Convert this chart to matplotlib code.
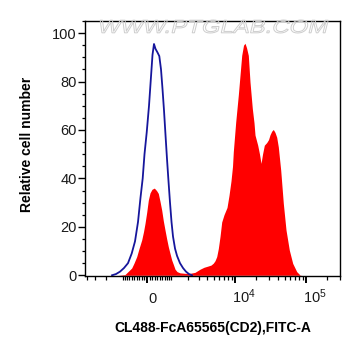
import numpy as np
import matplotlib
matplotlib.use("Agg")
import matplotlib.pyplot as plt
from matplotlib.textpath import TextPath
from matplotlib.patches import PathPatch
from matplotlib.font_manager import FontProperties
from matplotlib.transforms import Affine2D

plt.rcParams["font.family"] = ["Liberation Sans", "DejaVu Sans"]
plt.rcParams["mathtext.fontset"] = "custom"
plt.rcParams["mathtext.rm"] = "Liberation Sans"
plt.rcParams["mathtext.it"] = "Liberation Sans"

# control (blue outline): fluorescence intensity vs relative cell number
ctrl_x = [-1610, -1369, -1145, -944, -758, -597, -461, -342, -246, -162, -94,
          -11, 75, 150, 207, 264, 322, 401, 473, 543, 605, 670, 735, 803, 863,
          944, 1018, 1094, 1201, 1313, 1486, 1677, 1883, 2107, 2352]
ctrl_y = [0, 0.5, 1.5, 3, 5, 9, 14, 22, 32, 40, 50, 59, 70, 82, 91, 95.5, 93.5,
          92, 90.5, 85, 77, 68, 58, 48, 40, 30, 22, 16, 11, 8, 5, 3, 1.5, 0.5, 0]

# CD2 stained sample (red fill)
cd2_x = [-1254, -896, -758, -597, -502, -393, -303, -199, -131, -75, -11, 49,
         113, 188, 276, 362, 433, 502, 572, 640, 713, 789, 863, 944, 1028,
         1110, 1201, 1313, 1486, 1813, 2186, 2618, 3119, 3577, 4097, 4531,
         4893, 5178, 5479, 5776, 6111, 6463, 6971, 7692, 8214, 8769, 9210,
         9453, 10226, 11130, 11765, 12436, 13190, 13845, 14538, 15415, 16291,
         17556, 18550, 19167, 20924, 22184, 23294, 24455, 25929, 28026, 29712,
         31192, 32964, 34722, 36691, 38771, 40838, 44149, 48035, 52431, 58351,
         65160, 74187, 82571, 88105]
cd2_y = [0, 0.3, 1.5, 3, 5, 7.7, 11, 14.6, 18, 21.4, 26, 31, 34, 35.5, 36, 35,
         33.8, 30.5, 26.9, 22.5, 18.7, 15, 11.8, 9, 6.3, 4.5, 2.5, 1.5, 1.0,
         0.8, 0.8, 1.2, 2.5, 3.3, 3.8, 4.2, 5, 6, 7.7, 11, 16, 22, 25, 28, 33,
         39, 45, 51, 63.3, 74.4, 82.6, 90.8, 95, 95.8, 94, 90.8, 79.8, 68.9, 63,
         57.9, 53.7, 50, 46.2, 50, 53.7, 54.8, 56, 58, 59.5, 60.2, 59, 57, 53,
         43.4, 29.7, 18.7, 10.4, 4.9, 1.5, 0.1, 0]

major_x = [0, 1e4, 1e5]
major_labels = ["0", "$10^4$", "$10^5$"]
minor_x = ([-4000, -3000, -2000, -1000] + list(range(-900, 0, 100)) +
           list(range(100, 1000, 100)) + list(range(1000, 10000, 1000)) +
           list(range(20000, 100000, 10000)) + [200000, 300000])

W = 1155  # arcsinh width parameter of the display scale

fig = plt.figure(figsize=(3.61, 3.56), dpi=100)
ax = fig.add_axes([85 / 361, 80 / 356, 255 / 361, 255 / 356])
ax.set_xscale("function", functions=(lambda x: np.arcsinh(np.asarray(x) / W),
                                     lambda t: W * np.sinh(np.asarray(t))))

ax.fill_between(cd2_x, cd2_y, 0, color="#ff0000", lw=0, zorder=2)
ax.plot(ctrl_x, ctrl_y, color="#16169c", lw=1.3, zorder=3)

ax.set_xlim(-4237, 302000)
ax.set_ylim(-0.3, 104.7)

ax.set_xticks(major_x)
ax.set_xticks(minor_x, minor=True)
ax.set_xticklabels([])
ax.set_yticks(range(0, 101, 20))
ax.set_yticks(range(0, 106, 5), minor=True)
ax.tick_params(axis="x", which="major", length=4.8, width=1.4, color="black")
ax.tick_params(axis="x", which="minor", length=3, width=0.9, color="black")
ax.tick_params(axis="y", which="major", length=5, width=1, pad=1,
               labelsize=10.5, labelcolor="#1a1a1a")
ax.tick_params(axis="y", which="minor", length=2.5, width=0.9)

for xv, lab in zip(major_x, major_labels):
    dx = 3.6 if lab == "0" else 6.3
    ax.annotate(lab, xy=(xv, 0), xycoords=("data", "axes fraction"),
                xytext=(dx, -19.1), textcoords="offset points",
                ha="center", va="baseline", fontsize=10.5, color="#1a1a1a")

for sp in ax.spines.values():
    sp.set_linewidth(1.0)
    sp.set_color("black")
    sp.set_zorder(6)

ax.set_xlabel("CL488-FcA65565(CD2),FITC-A", fontsize=10, fontweight="bold")
ax.xaxis.set_label_coords(0.5, -0.205)
ax.xaxis.label.set_va("center")
ax.set_ylabel("Relative cell number", fontsize=10, fontweight="bold")
ax.yaxis.set_label_coords(-0.227, 0.518)
ax.yaxis.label.set_va("center")

# watermark (thin italic outline letters)
tp = TextPath((0, 0), "WWW.PTGLAB.COM", size=10,
              prop=FontProperties(family="Liberation Sans"))
bb = tp.get_extents()
sx = 228 / bb.width
sy = 13 / bb.height
tr = (Affine2D().translate(-bb.x0, -bb.y0).scale(sx, sy).skew_deg(14, 0)
      .translate(97, 356 - 33) + Affine2D().scale(1 / 361, 1 / 356)
      + fig.transFigure)
fig.patches.append(PathPatch(tp, transform=tr, facecolor="none",
                             edgecolor="#cdcdcd", lw=0.7, zorder=5))

fig.savefig("out.png", dpi=100)
